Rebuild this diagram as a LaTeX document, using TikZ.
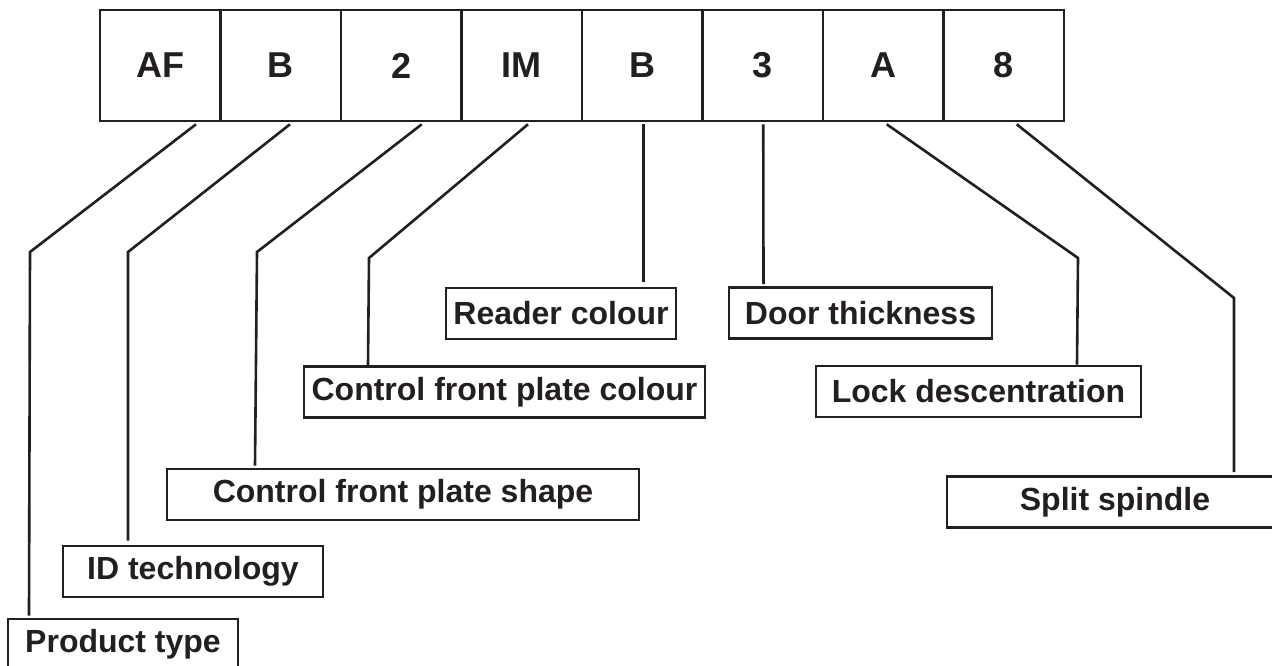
\documentclass[tikz,border=0pt]{standalone}
\usepackage{fontspec}
\setmainfont{Liberation Sans}
\definecolor{ink}{HTML}{231F20}
\begin{document}
\begin{tikzpicture}[x=1pt,y=-1pt,
  every node/.style={text=ink},
  cell/.style={draw=ink, line width=2.6pt, minimum width=120.5pt, minimum height=111pt, inner sep=0pt,
    font=\fontsize{36}{40}\selectfont\bfseries},
  lab/.style={draw=ink, line width=2.6pt, minimum height=51pt, inner sep=0pt,
    font=\fontsize{32}{36}\selectfont\bfseries},
  conn/.style={draw=ink, line width=2.6pt, line join=miter}]
\useasboundingbox (0,0) rectangle (1272,666);
% top code cells
\node[cell] (c1) at (160.25,65.5) {AF};
\node[cell] (c2) at (280.75,65.5) {B};
\node[cell] (c3) at (401.25,65.5) {2};
\node[cell] (c4) at (521.75,65.5) {IM};
\node[cell] (c5) at (642.25,65.5) {B};
\node[cell] (c6) at (762.75,65.5) {3};
\node[cell] (c7) at (883.25,65.5) {A};
\node[cell] (c8) at (1003.75,65.5) {8};
% labels
\node[lab, minimum width=230pt] (l1) at (123,644.5) {Product type};
\node[lab, minimum width=260pt] (l2) at (193,571.5) {ID technology};
\node[lab, minimum width=472pt] (l3) at (403,494.5) {Control front plate shape};
\node[lab, minimum width=401pt] (l4) at (504.5,392) {Control front plate colour};
\node[lab, minimum width=230pt] (l5) at (561,313.5) {Reader colour};
\node[lab, minimum width=263pt] (l6) at (860.5,313) {Door thickness};
\node[lab, minimum width=325pt] (l7) at (978.5,391.5) {Lock descentration};
\node[lab, minimum width=336pt] (l8) at (1115,502) {Split spindle};
% bend points
\coordinate (b1) at (30,252);
\coordinate (b2) at (128,252);
\coordinate (b3) at (257,252);
\coordinate (b4) at (369,258);
\coordinate (b7) at (1078,258);
\coordinate (b8) at (1234,298);
% connectors
\draw[conn] ([xshift=35.75pt,yshift=-2pt]c1.south) -- (b1) -- ([yshift=2pt]l1.north -| 29,0);
\draw[conn] ([xshift=9.25pt,yshift=-2pt]c2.south) -- (b2) -- ([yshift=4pt]l2.north -| b2);
\draw[conn] ([xshift=20.5pt,yshift=-2pt]c3.south) -- (b3) -- ([yshift=2pt]l3.north -| 255,0);
\draw[conn] ([xshift=6.25pt,yshift=-2pt]c4.south) -- (b4) -- (l4.north -| 368,0);
\draw[conn] ([xshift=1.25pt,yshift=-2pt]c5.south) -- ([yshift=5pt]l5.north -| 643.5,0);
\draw[conn] ([xshift=0.5pt,yshift=-2pt]c6.south) -- ([yshift=2pt]l6.north -| 763.5,0);
\draw[conn] ([xshift=3.5pt,yshift=-2pt]c7.south) -- (b7) -- (l7.north -| 1077,0);
\draw[conn] ([xshift=13pt,yshift=-2pt]c8.south) -- (b8) -- ([yshift=3pt]l8.north -| b8);
\end{tikzpicture}
\end{document}
